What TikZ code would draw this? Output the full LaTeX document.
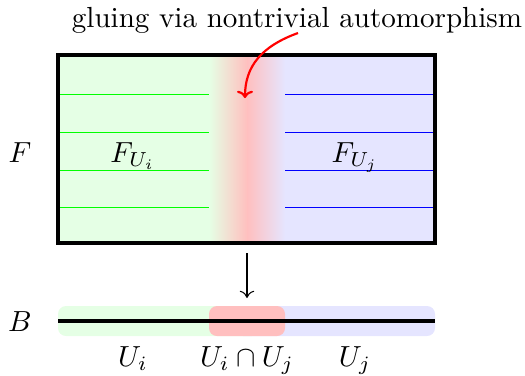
\documentclass[tikz,border=0pt]{standalone}
\usetikzlibrary{arrows.meta}
\definecolor{gfill}{RGB}{229,255,229}
\definecolor{bfill}{RGB}{229,229,255}
\definecolor{rfill}{RGB}{255,191,191}
\tikzset{
  fiberline/.style={line width=0.35pt},
  lbl/.style={anchor=base, inner sep=0pt},
  band/.style={rounded corners=8*0.344pt},
}
\begin{document}
\begin{tikzpicture}[x=0.344pt,y=-0.344pt]
\useasboundingbox (0,0) rectangle (525,375);
% fibre fills
\fill[gfill] (58,55) rectangle (209,243);
\fill[bfill] (285,55) rectangle (435,243);
\shade[left color=gfill, right color=rfill] (209,55) rectangle (247.5,243);
\shade[left color=rfill, right color=bfill] (247,55) rectangle (285,243);
% fibre lines
\foreach \y in {94,132,170,207} {
  \draw[fiberline, green] (59,\y) -- (209,\y);
  \draw[fiberline, blue] (285,\y) -- (434,\y);
}
\node[draw, line width=1.05pt, minimum width=377*0.344pt, minimum height=188*0.344pt, inner sep=0pt] (fib) at (246.5,149) {};
% labels in fibre
\node[lbl] (FUi) at (133,162) {$F_{U_i}$};
\node[lbl] (FUj) at (355,162) {$F_{U_j}$};
\node[lbl] (F) at (20,162) {$F$};
% gluing text and arrow
\node[lbl] (glue) at (297,27) {gluing via nontrivial automorphism};
\coordinate (gs) at (298,33);
\coordinate (ge) at (245,98);
\draw[red, line width=0.75pt, -{To[length=2.5pt,width=5.5pt]}] (gs) .. controls (262,46) and (245,66) .. (ge);
% base
\fill[gfill, band] (58,306) rectangle (260,336);
\fill[bfill, band] (235,306) rectangle (435,336);
\fill[rfill, band] (209,306) rectangle (285,336);
\coordinate (bl) at (58,321);
\coordinate (br) at (435,321);
\draw[line width=1.05pt] (bl) -- (br);
\coordinate (btop) at (247,298);
\coordinate (ftop) at (247,253);
\draw[-{To[length=2.5pt,width=5pt]}, line width=0.35pt] (ftop) -- (btop);
\node[lbl] (B) at (20,331) {$B$};
\node[lbl] (Ui) at (133,366) {$U_i$};
\node[lbl] (Uij) at (247,366) {$U_i\cap U_j$};
\node[lbl] (Uj) at (355,366) {$U_j$};
\end{tikzpicture}
\end{document}
